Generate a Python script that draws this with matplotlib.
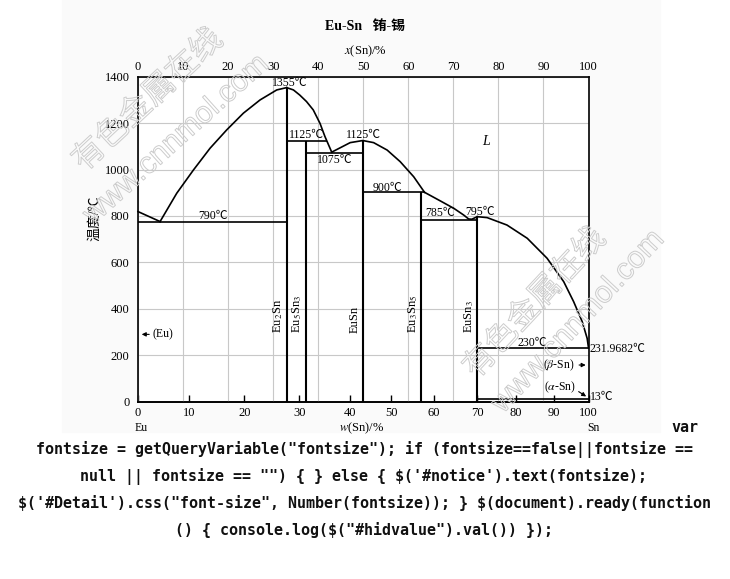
import matplotlib
matplotlib.use("Agg")
import matplotlib.pyplot as plt
import matplotlib.patheffects as pe
from matplotlib.patches import Rectangle

plt.rcParams['font.family'] = ['Liberation Serif', 'Noto Sans CJK SC', 'DejaVu Sans']
plt.rcParams['mathtext.fontset'] = 'stix'

# axis ticks
at_ticks = [0, 10, 20, 30, 40, 50, 60, 70, 80, 90, 100]
w_ticks = [0, 10, 20, 30, 40, 50, 60, 70, 80, 90, 100]
w_tick_at = [0, 11.4, 23.6, 35.8, 47.0, 56.2, 65.6, 75.3, 83.9, 92.3, 100]
temp_ticks = [0, 200, 400, 600, 800, 1000, 1200, 1400]

# liquidus pieces, x in at.% Sn, T in C
liq_a_x = [0, 4.9]
liq_a_t = [819, 776]
liq_b_x = [4.9, 8.6, 12.3, 16.0, 19.7, 23.4, 27.1, 30.8, 33.0]
liq_b_t = [776, 898, 998, 1092, 1171, 1243, 1300, 1343, 1353]
liq_c_x = [33.0, 34.5, 35.9, 37.4, 38.9, 40.4, 41.5, 43.0]
liq_c_t = [1353, 1343, 1321, 1293, 1257, 1199, 1142, 1075]
liq_d_x = [43.0, 44.9, 47.1, 49.9, 52.3, 55.3, 58.2, 61.2, 63.6]
liq_d_t = [1075, 1094, 1116, 1125, 1116, 1084, 1034, 969, 902]
liq_e_x = [63.6, 67.1, 70.1, 72.3, 73.4, 74.1, 75.3]
liq_e_t = [902, 865, 833, 804, 787, 786, 797]
liq_f_x = [75.3, 77.5, 81.9, 86.4, 90.8, 94.5, 96.7, 98.6, 99.7, 100]
liq_f_t = [797, 793, 761, 704, 618, 517, 431, 345, 273, 232]

# invariant lines: x start, x end, T
inv_x0 = [0, 33.0, 37.3, 49.9, 62.9, 75.3, 75.3]
inv_x1 = [33.0, 41.9, 49.9, 63.6, 75.3, 100, 100]
inv_t = [776, 1125, 1072, 902, 783, 230, 12]

# compounds
comp_x = [33.0, 37.3, 49.9, 62.9, 75.3]
comp_top = [1353, 1125, 1125, 902, 797]
comp_names = ['Eu$_2$Sn', 'Eu$_5$Sn$_3$', 'EuSn', 'Eu$_3$Sn$_5$', 'EuSn$_3$']

code_lines = [
    'fontsize = getQueryVariable("fontsize"); if (fontsize==false||fontsize ==',
    'null || fontsize == "") { } else { $(\'#notice\').text(fontsize);',
    '$(\'#Detail\').css("font-size", Number(fontsize)); } $(document).ready(function',
    '() { console.log($("#hidvalue").val()) });',
]

W, H = 730, 579
fig = plt.figure(figsize=(7.3, 5.79), dpi=100)
fig.patches.append(Rectangle((62 / W, 1 - 432 / H), 598 / W, 432 / H,
                             transform=fig.transFigure, color='#fafafa', zorder=-10))

ax = fig.add_axes([138 / W, 1 - 401.7 / H, 450.5 / W, 325 / H])
ax.set_facecolor('white')
ax.set_xlim(0, 100)
ax.set_ylim(0, 1400)

ax.xaxis.tick_top()
ax.set_xticks(at_ticks)
ax.set_yticks(temp_ticks)
ax.tick_params(axis='both', length=0, labelsize=9)
ax.tick_params(axis='x', pad=3)
ax.tick_params(axis='y', pad=6)
ax.grid(True, color='#c8c8c8', lw=0.8)
for s in ax.spines.values():
    s.set_linewidth(1.2)

sec = ax.secondary_xaxis('bottom')
sec.set_xticks(w_tick_at, labels=[str(v) for v in w_ticks])
sec.tick_params(direction='in', length=5, width=1, labelsize=9, pad=4)
sec.spines['bottom'].set_linewidth(1.2)

lk = dict(color='black', lw=1.2, clip_on=False, zorder=3)
for xs, ts in [(liq_a_x, liq_a_t), (liq_b_x, liq_b_t), (liq_c_x, liq_c_t),
               (liq_d_x, liq_d_t), (liq_e_x, liq_e_t), (liq_f_x, liq_f_t)]:
    ax.plot(xs, ts, solid_joinstyle='round', **lk)
ax.hlines(inv_t, inv_x0, inv_x1, **lk)
ax.vlines(comp_x, 0, comp_top, color='black', lw=1.5, clip_on=False, zorder=3)

fs = 8.5
for x, name in zip(comp_x, comp_names):
    ax.text(x - 1.9, 296, name, rotation=90, ha='center', va='bottom', fontsize=9)

ax.text(33.7, 1374, '1355℃', ha='center', va='center', fontsize=fs)
ax.text(37.4, 1149, '1125℃', ha='center', va='center', fontsize=fs)
ax.text(50.0, 1149, '1125℃', ha='center', va='center', fontsize=fs)
ax.text(43.7, 1041, '1075℃', ha='center', va='center', fontsize=fs)
ax.text(55.4, 922, '900℃', ha='center', va='center', fontsize=fs)
ax.text(16.7, 801, '790℃', ha='center', va='center', fontsize=fs)
ax.text(67.1, 812, '785℃', ha='center', va='center', fontsize=fs)
ax.text(75.9, 819, '795℃', ha='center', va='center', fontsize=fs)
ax.text(87.6, 254, '230℃', ha='center', va='center', fontsize=fs)
ax.text(100.3, 227, '231.9682℃', ha='left', va='center', fontsize=fs)
ax.text(100.3, 22, '13℃', ha='left', va='center', fontsize=fs)
ax.text(93.3, 158, r'($\beta$-Sn)', ha='center', va='center', fontsize=fs)
ax.text(93.6, 62, r'($\alpha$-Sn)', ha='center', va='center', fontsize=fs)
ax.text(3.3, 290, '(Eu)', ha='left', va='center', fontsize=fs)
ax.text(77.2, 1120, 'L', style='italic', ha='center', va='center', fontsize=10)

arrow = dict(arrowstyle='-|>', color='black', lw=0.8, mutation_scale=6)
ax.annotate('', xy=(100, 158), xytext=(97.3, 158), arrowprops=arrow, annotation_clip=False)
ax.annotate('', xy=(100, 16), xytext=(97.3, 50), arrowprops=arrow, annotation_clip=False)
ax.annotate('', xy=(0.2, 290), xytext=(3.1, 290), arrowprops=arrow, annotation_clip=False)

# titles and labels around the axes
fig.text(365 / W, 1 - 26 / H, 'Eu-Sn   铕-锡', ha='center', va='center',
         fontsize=10, fontweight='bold')
fig.text(365 / W, 1 - 51 / H, '$x$(Sn)/%', ha='center', va='center', fontsize=9)
fig.text(95 / W, 1 - 218 / H, '温度/℃', rotation=90, ha='center', va='center', fontsize=10)
fig.text(141 / W, 1 - 428 / H, 'Eu', ha='center', va='center', fontsize=8.5)
fig.text(362 / W, 1 - 428 / H, '$w$(Sn)/%', ha='center', va='center', fontsize=9)
fig.text(593 / W, 1 - 428 / H, 'Sn', ha='center', va='center', fontsize=8.5)

# watermark
wm = dict(color='none', ha='center', va='center', rotation_mode='anchor', zorder=5,
          path_effects=[pe.withStroke(linewidth=0.7, foreground='#cccccc')])
fig.text(148 / W, 1 - 100 / H, '有色金属在线', rotation=43, fontsize=23,
         family=['Noto Sans CJK SC'], **wm)
fig.text(176 / W, 1 - 140 / H, 'www.cnnmol.com', rotation=42, fontsize=22,
         family=['Liberation Sans'], **wm)
fig.text(535 / W, 1 - 303 / H, '有色金属在线', rotation=47, fontsize=23,
         family=['Noto Sans CJK SC'], **wm)
fig.text(578 / W, 1 - 322 / H, 'www.cnnmol.com', rotation=47, fontsize=22,
         family=['Liberation Sans'], **wm)

# leftover page script text
mono = dict(family=['DejaVu Sans Mono'], fontsize=10.8, fontweight='bold',
            color='#111111', parse_math=False)
fig.text(685 / W, 1 - 428 / H, 'var', ha='center', va='center', **mono)
for i, line in enumerate(code_lines):
    fig.text(364 / W, 1 - (450 + 26.7 * i) / H, line, ha='center', va='center', **mono)

fig.savefig('out.png', dpi=100)
